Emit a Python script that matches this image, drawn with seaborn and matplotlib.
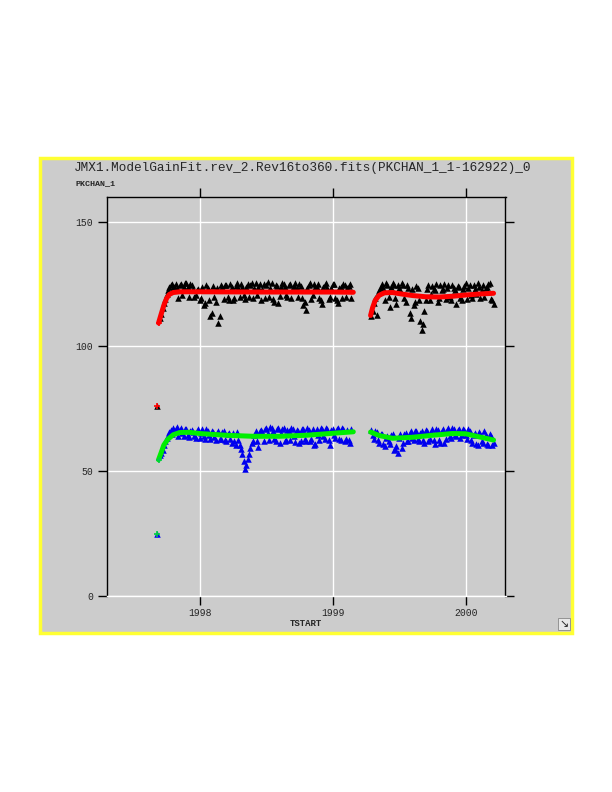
import numpy as np
import pandas as pd
import matplotlib
matplotlib.use('Agg')
import matplotlib.pyplot as plt
import seaborn as sns
from matplotlib.patches import Rectangle

# TSTART sampling (years) for the two observation segments
t_seg1 = [1997.70, 1997.72, 1997.74, 1997.76, 1997.78, 1997.80, 1997.82, 1997.84, 1997.86, 1997.88,
          1997.90, 1997.92, 1997.94, 1997.96, 1997.98, 1998.00, 1998.02, 1998.04, 1998.06, 1998.08,
          1998.10, 1998.12, 1998.14, 1998.16, 1998.18, 1998.20, 1998.22, 1998.24, 1998.26, 1998.28,
          1998.30, 1998.32, 1998.34, 1998.36, 1998.38, 1998.40, 1998.42, 1998.44, 1998.46, 1998.48,
          1998.50, 1998.52, 1998.54, 1998.56, 1998.58, 1998.60, 1998.62, 1998.64, 1998.66, 1998.68,
          1998.70, 1998.72, 1998.74, 1998.76, 1998.78, 1998.80, 1998.82, 1998.84, 1998.86, 1998.88,
          1998.90, 1998.92, 1998.94, 1998.96, 1998.98, 1999.00, 1999.02, 1999.04, 1999.06, 1999.08,
          1999.10, 1999.12, 1999.14]
t_seg1b = [1997.71, 1997.73, 1997.75, 1997.77, 1997.79, 1997.81, 1997.83, 1997.85, 1997.87, 1997.89,
           1997.91, 1997.93, 1997.95, 1997.97, 1997.99, 1998.01, 1998.03, 1998.05, 1998.07, 1998.09,
           1998.11, 1998.13, 1998.15, 1998.17, 1998.19, 1998.21, 1998.23, 1998.25, 1998.27, 1998.29,
           1998.31, 1998.33, 1998.35, 1998.37, 1998.39, 1998.41, 1998.43, 1998.45, 1998.47, 1998.49,
           1998.51, 1998.53, 1998.55, 1998.57, 1998.59, 1998.61, 1998.63, 1998.65, 1998.67, 1998.69,
           1998.71, 1998.73, 1998.75, 1998.77, 1998.79, 1998.81, 1998.83, 1998.85, 1998.87, 1998.89,
           1998.91, 1998.93, 1998.95, 1998.97, 1998.99, 1999.01, 1999.03, 1999.05, 1999.07, 1999.09,
           1999.11, 1999.13]
t_seg2 = [1999.29, 1999.31, 1999.33, 1999.35, 1999.37, 1999.39, 1999.41, 1999.43, 1999.45, 1999.47,
          1999.49, 1999.51, 1999.53, 1999.55, 1999.57, 1999.59, 1999.61, 1999.63, 1999.65, 1999.67,
          1999.69, 1999.71, 1999.73, 1999.75, 1999.77, 1999.79, 1999.81, 1999.83, 1999.85, 1999.87,
          1999.89, 1999.91, 1999.93, 1999.95, 1999.97, 1999.99, 2000.01, 2000.03, 2000.05, 2000.07,
          2000.09, 2000.11, 2000.13, 2000.15, 2000.17, 2000.19, 2000.21]
t_seg2b = [1999.30, 1999.32, 1999.34, 1999.36, 1999.38, 1999.40, 1999.42, 1999.44, 1999.46, 1999.48,
           1999.50, 1999.52, 1999.54, 1999.56, 1999.58, 1999.60, 1999.62, 1999.64, 1999.66, 1999.68,
           1999.70, 1999.72, 1999.74, 1999.76, 1999.78, 1999.80, 1999.82, 1999.84, 1999.86, 1999.88,
           1999.90, 1999.92, 1999.94, 1999.96, 1999.98, 2000.00, 2000.02, 2000.04, 2000.06, 2000.08,
           2000.10, 2000.12, 2000.14, 2000.16, 2000.18, 2000.20]

# measured peak channel, upper line (black triangles)
pk_hi_seg1 = [111.5, 115.5, 119.0, 122.5, 124.5, 123.5, 125.2, 119.5, 125.0, 124.0,
              125.3, 120.0, 124.6, 119.8, 122.8, 118.5, 124.0, 117.5, 123.5, 112.0,
              124.2, 118.0, 109.5, 124.5, 119.0, 124.8, 118.5, 123.8, 119.5, 125.5,
              120.0, 124.0, 119.0, 125.0, 124.6, 119.5, 125.6, 124.0, 118.5, 125.0,
              124.5, 120.0, 125.3, 118.0, 124.2, 120.2, 125.4, 124.0, 119.8, 125.0,
              123.6, 125.5, 120.0, 124.4, 116.5, 114.5, 124.8, 119.0, 125.2, 123.8,
              119.5, 117.0, 124.5, 123.5, 120.0, 124.9, 119.5, 117.5, 124.0, 125.0,
              120.0, 124.2, 119.5]
pk_hi_seg1b = [113.0, 117.5, 121.0, 123.8, 125.0, 124.0, 123.5, 124.8, 120.5, 125.5,
               123.8, 125.0, 123.2, 120.5, 123.0, 119.5, 116.5, 124.5, 118.5, 113.5,
               120.0, 123.5, 112.0, 123.8, 124.5, 120.0, 125.0, 118.8, 124.2, 123.5,
               125.0, 120.5, 123.8, 120.0, 125.5, 123.5, 120.5, 125.2, 123.0, 119.5,
               125.8, 123.5, 119.0, 124.8, 117.5, 123.8, 125.0, 120.5, 124.5, 119.5,
               124.2, 123.5, 125.0, 119.5, 118.0, 123.5, 125.5, 120.5, 124.0, 125.2,
               118.5, 123.8, 125.3, 119.0, 123.5, 125.0, 118.5, 123.5, 119.5, 124.5,
               123.5, 125.0]
pk_hi_seg2 = [112.0, 117.5, 112.5, 122.5, 125.0, 118.5, 124.5, 116.0, 125.3, 119.5,
              124.8, 122.8, 124.6, 118.0, 123.5, 111.5, 116.5, 124.2, 118.5, 106.5,
              114.0, 123.0, 118.5, 124.4, 122.5, 118.0, 124.5, 123.0, 119.0, 124.8,
              118.8, 123.5, 117.0, 123.8, 118.5, 124.2, 119.0, 124.5, 119.5, 123.0,
              125.3, 119.5, 124.6, 123.5, 125.2, 119.0, 117.0]
pk_hi_seg2b = [114.0, 119.5, 121.5, 124.0, 123.5, 125.5, 120.0, 123.8, 124.5, 117.0,
               123.5, 125.5, 119.5, 124.8, 113.5, 123.0, 118.0, 123.5, 110.0, 109.0,
               118.5, 124.8, 121.0, 123.0, 125.0, 119.5, 122.8, 125.0, 123.5, 120.0,
               124.5, 122.5, 124.2, 119.5, 123.0, 125.3, 123.5, 120.5, 124.8, 121.0,
               124.0, 122.5, 120.0, 123.8, 125.5, 118.5]

# measured peak channel, lower line (blue triangles)
pk_lo_seg1 = [56.5, 58.5, 62.0, 64.5, 66.5, 67.5, 66.8, 64.0, 67.2, 64.2,
              66.8, 63.8, 66.5, 64.0, 66.3, 63.5, 66.8, 62.8, 66.0, 63.0,
              65.8, 62.5, 66.2, 62.8, 66.0, 62.2, 65.5, 61.5, 62.0, 65.8,
              60.5, 57.0, 51.0, 55.0, 59.5, 62.0, 66.0, 59.8, 66.5, 62.0,
              67.2, 62.5, 67.5, 63.0, 66.8, 61.5, 67.0, 62.0, 66.5, 62.5,
              66.8, 61.8, 66.2, 62.3, 66.8, 62.0, 66.5, 62.8, 60.5, 66.8,
              62.5, 67.0, 63.0, 66.8, 60.5, 67.0, 63.5, 67.3, 62.5, 67.0,
              63.0, 62.4, 66.8]
pk_lo_seg1b = [57.5, 60.5, 63.5, 65.8, 65.0, 66.2, 67.8, 66.5, 65.5, 67.0,
               64.5, 66.2, 65.8, 63.5, 66.8, 65.5, 64.0, 66.8, 64.5, 66.2,
               63.8, 65.5, 63.0, 65.8, 62.5, 65.0, 63.0, 65.5, 60.5, 62.5,
               59.0, 54.0, 52.5, 57.0, 61.5, 64.5, 62.0, 66.2, 65.8, 66.8,
               65.5, 67.8, 66.0, 62.0, 67.2, 65.5, 67.5, 62.5, 66.0, 67.2,
               64.0, 66.5, 61.5, 67.0, 63.0, 67.5, 62.0, 66.8, 61.0, 64.5,
               67.5, 64.0, 67.3, 62.5, 66.5, 64.5, 66.8, 63.0, 67.5, 62.0,
               66.5, 61.5]
pk_lo_seg2 = [66.5, 63.0, 65.8, 61.5, 64.8, 60.0, 64.0, 61.0, 65.0, 59.0,
              57.5, 64.8, 61.5, 65.5, 62.0, 66.0, 62.5, 66.2, 62.0, 66.0,
              61.5, 66.3, 62.8, 66.8, 61.0, 66.5, 61.2, 67.0, 63.0, 67.2,
              63.5, 66.8, 64.0, 67.0, 64.5, 66.5, 63.0, 66.2, 61.5, 65.5,
              60.5, 64.8, 61.5, 64.5, 60.5, 64.0, 61.5]
pk_lo_seg2b = [64.5, 66.2, 62.5, 65.0, 61.0, 63.5, 62.0, 64.5, 58.5, 60.0,
               63.5, 59.5, 64.8, 62.0, 65.5, 63.5, 66.0, 63.0, 65.5, 62.5,
               66.5, 62.0, 65.8, 62.5, 67.0, 62.5, 66.0, 61.5, 66.5, 64.0,
               67.5, 64.5, 66.5, 63.5, 67.0, 64.5, 66.8, 62.5, 64.5, 61.0,
               65.8, 62.0, 66.0, 61.0, 65.0, 60.5]

# isolated early points
out_t = [1997.675]
out_hi = [76.0]
out_lo = [25.0]

# model gain fits
fit_hi_t1 = [1997.69, 1997.71, 1997.73, 1997.75, 1997.77, 1997.80, 1997.85, 1998.00, 1998.50, 1999.00, 1999.155]
fit_hi_v1 = [109.4, 113.0, 116.5, 119.2, 120.8, 121.6, 121.9, 121.9, 121.8, 121.8, 121.7]
fit_hi_t2 = [1999.285, 1999.30, 1999.32, 1999.35, 1999.39, 1999.45, 1999.52, 1999.60, 1999.70, 1999.80, 1999.90, 2000.00, 2000.10, 2000.21]
fit_hi_v2 = [112.4, 115.5, 118.5, 120.5, 121.5, 121.6, 121.0, 120.4, 119.9, 119.8, 120.1, 120.6, 121.0, 121.3]
fit_lo_t1 = [1997.69, 1997.71, 1997.73, 1997.76, 1997.80, 1997.85, 1997.92, 1998.00, 1998.20, 1998.40, 1998.60, 1998.80, 1999.00, 1999.155]
fit_lo_v1 = [54.6, 57.5, 60.5, 62.8, 64.6, 65.5, 65.6, 65.1, 64.4, 64.0, 64.0, 64.4, 65.2, 65.8]
fit_lo_t2 = [1999.285, 1999.35, 1999.45, 1999.60, 1999.75, 1999.90, 2000.00, 2000.10, 2000.21]
fit_lo_v2 = [65.7, 64.3, 63.2, 63.6, 64.4, 65.1, 65.0, 63.8, 62.5]

xticks = [1998, 1999, 2000]
yticks = [0, 50, 100, 150]

panel_gray = '#cccccc'

sns.set_style('darkgrid', {'axes.facecolor': panel_gray, 'grid.color': 'white',
                           'axes.edgecolor': 'black', 'xtick.bottom': True, 'ytick.left': True})
plt.rcParams['font.family'] = ['Liberation Mono', 'DejaVu Sans Mono']

fig = plt.figure(figsize=(6.12, 7.92), dpi=100)
fig.patch.set_facecolor('white')

# gray panel with yellow frame, kept behind the axes
frame = Rectangle((40 / 612, 1 - 633 / 792), 532 / 612, 475 / 792,
                  transform=fig.transFigure, facecolor=panel_gray,
                  edgecolor='#ffff33', linewidth=2.5, zorder=-5)
fig.add_artist(frame)

ax = fig.add_axes([106.7 / 612, 1 - 596 / 792, 398.8 / 612, 399.3 / 792])
ax.set_zorder(1)

mk = dict(marker='^', s=22, linewidth=0, legend=False, zorder=3)
hi_sets = [(t_seg1, pk_hi_seg1), (t_seg1b, pk_hi_seg1b), (t_seg2, pk_hi_seg2),
           (t_seg2b, pk_hi_seg2b), (out_t, out_hi)]
lo_sets = [(t_seg1, pk_lo_seg1), (t_seg1b, pk_lo_seg1b), (t_seg2, pk_lo_seg2),
           (t_seg2b, pk_lo_seg2b), (out_t, out_lo)]
for tt, vv in hi_sets:
    sns.scatterplot(x=tt, y=vv, color='black', ax=ax, **mk)
for tt, vv in lo_sets:
    sns.scatterplot(x=tt, y=vv, color='#0000ee', ax=ax, **mk)

for tt, vv in [(fit_hi_t1, fit_hi_v1), (fit_hi_t2, fit_hi_v2)]:
    sns.lineplot(x=tt, y=vv, color='#ff0000', lw=3.6, ax=ax, zorder=4, sort=False)
for tt, vv in [(fit_lo_t1, fit_lo_v1), (fit_lo_t2, fit_lo_v2)]:
    sns.lineplot(x=tt, y=vv, color='#00ee00', lw=3.6, ax=ax, zorder=4, sort=False)

# fit markers at the starts and at the isolated points
ax.plot([fit_hi_t1[0]] + out_t, [fit_hi_v1[0]] + out_hi, '+', color='#ff0000', ms=5, mew=1.2, zorder=5)
ax.plot([fit_lo_t1[0]] + out_t, [fit_lo_v1[0]] + out_lo, '+', color='#00cc44', ms=5, mew=1.2, zorder=5)

ax.set_xlim(1997.30, 2000.30)
ax.set_ylim(0, 160)
ax.set_xticks(xticks)
ax.set_yticks(yticks)
ax.set_xticklabels([str(v) for v in xticks])
ax.set_yticklabels([str(v) for v in yticks])
ax.grid(True, color='white', lw=1)
ax.tick_params(axis='both', direction='out', length=6.5, width=1, color='black',
               labelsize=7, top=True, right=True, labeltop=False, labelright=False)
ax.tick_params(axis='y', pad=3.5)
ax.tick_params(axis='x', pad=2)
for side in ['top', 'left', 'right']:
    ax.spines[side].set_visible(True)
    ax.spines[side].set_color('black')
    ax.spines[side].set_linewidth(1)
ax.spines['bottom'].set_visible(True)
ax.spines['bottom'].set_color('white')
ax.spines['bottom'].set_linewidth(1)

ax.set_xlabel('TSTART', fontsize=6.5, fontweight='bold', labelpad=1)
ax.set_ylabel('')

fig.text(303 / 612, 1 - 168 / 792,
         'JMX1.ModelGainFit.rev_2.Rev16to360.fits(PKCHAN_1_1-162922)_0',
         fontsize=9.2, ha='center', va='center')
fig.text(75 / 612, 1 - 184 / 792, 'PKCHAN_1', fontsize=6, fontweight='bold',
         ha='left', va='center')
# resize handle in the corner of the panel
fig.text(564 / 612, 1 - 624 / 792, '\u2198', family='DejaVu Sans', fontsize=8,
         ha='center', va='center',
         bbox=dict(boxstyle='square,pad=0.1', facecolor='#e8e8e8', edgecolor='#888888', lw=0.6))

fig.savefig('out.png', dpi=100)
